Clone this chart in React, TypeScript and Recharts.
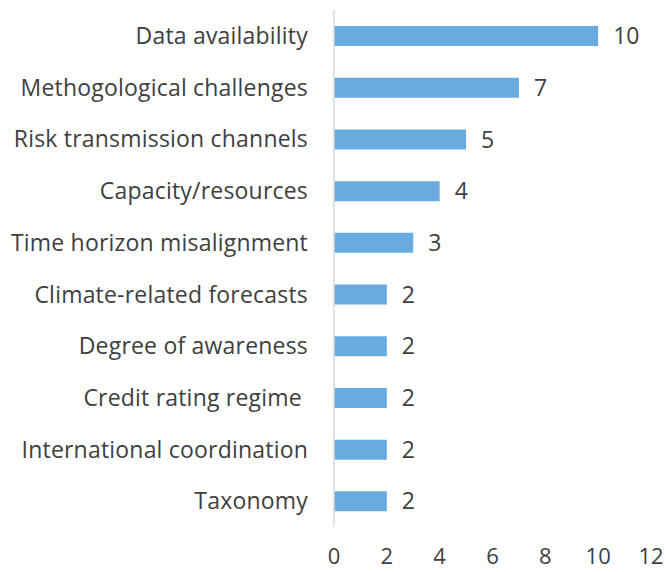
import React from 'react';
import { BarChart, Bar, XAxis, YAxis, LabelList } from 'recharts';

const categories = [
  'Data availability',
  'Methogological challenges',
  'Risk transmission channels',
  'Capacity/resources',
  'Time horizon misalignment',
  'Climate-related forecasts',
  'Degree of awareness',
  'Credit rating regime\u00A0',
  'International coordination',
  'Taxonomy',
];
const values = [10, 7, 5, 4, 3, 2, 2, 2, 2, 2];
const xTicks = [0, 2, 4, 6, 8, 10, 12];

const data = categories.map((name, i) => ({ name, value: values[i] }));

const FONT = '"Open Sans", sans-serif';
const TEXT = '#404040';

export default function App() {
  return (
    <div style={{ position: 'absolute', left: 0, top: 0 }}>
      <BarChart
        width={666}
        height={572}
        data={data}
        layout="vertical"
        margin={{ top: 10, right: 15, bottom: 0, left: 0 }}
        barCategoryGap="31%"
      >
        <XAxis
          type="number"
          domain={[0, 12]}
          ticks={xTicks}
          axisLine={false}
          tickLine={false}
          tickSize={0}
          tickMargin={21}
          height={45}
          interval={0}
          tick={{ fill: TEXT, fontSize: 22, fontFamily: FONT }}
        />
        <YAxis
          type="category"
          dataKey="name"
          width={334}
          axisLine={{ stroke: '#d9d9d9', strokeWidth: 1.5 }}
          tickLine={false}
          tickSize={0}
          tickMargin={26}
          interval={0}
          tick={{ fill: TEXT, fontSize: 23, fontFamily: FONT, letterSpacing: 0.2 }}
        />
        <Bar dataKey="value" fill="#6aabdf" isAnimationActive={false}>
          <LabelList
            dataKey="value"
            position="right"
            offset={15}
            fill={TEXT}
            fontSize={23}
            fontFamily={FONT}
          />
        </Bar>
      </BarChart>
    </div>
  );
}
